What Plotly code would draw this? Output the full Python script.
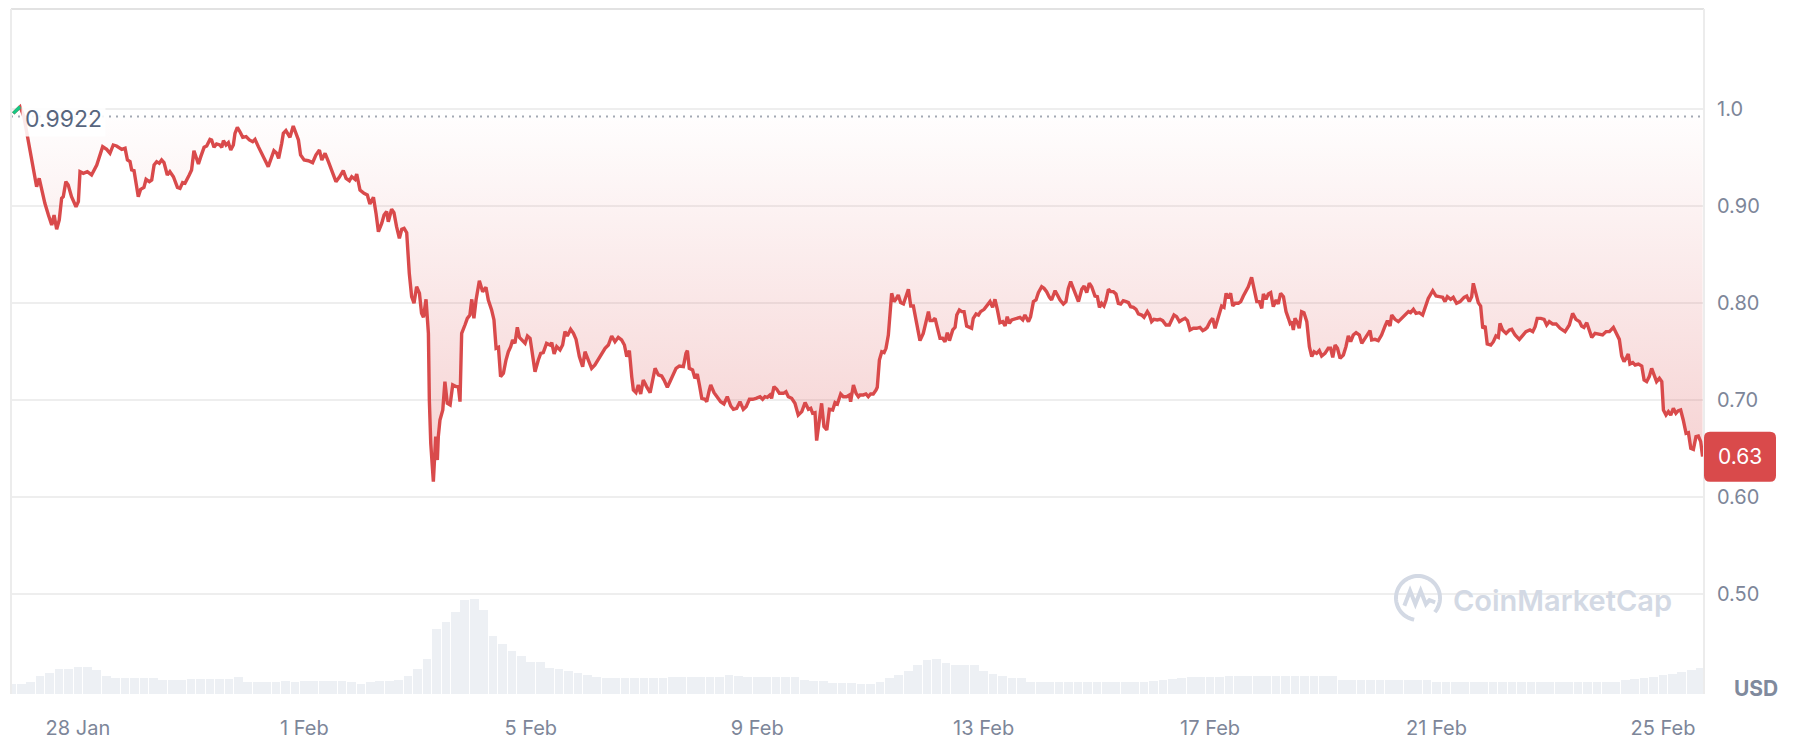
import math
import pandas as pd
import plotly.graph_objects as go

# ---------------- data ----------------
base_time = pd.Timestamp("2025-01-28 00:00")

# hours relative to 28 Jan 00:00, and price in USD
price_hours = [
    -27.4, -24.5, -22.9, -21.0, -19.6, -18.2, -17.5, -16.4, -15.4, -14.0, -12.5, -11.1, -10.1, -9.0, -7.9,
    -6.9, -6.2, -5.1, -4.1, -2.7, -0.8, 0.2, 0.9, 2.3, 4.0, 5.8, 8.0, 9.4, 10.5, 12.2, 13.6, 15.0, 16.4,
    18.6, 20.0, 21.0, 22.1, 22.8, 23.8, 25.6, 26.6, 28.0, 28.9, 30.3, 31.3, 32.3, 33.4, 34.5, 35.5, 36.5,
    37.9, 39.0, 40.5, 42.2, 43.3, 44.4, 45.4, 47.2, 48.2, 49.2, 50.1, 51.1, 52.1, 53.5, 54.6, 56.0, 56.7,
    57.7, 58.8, 60.2, 61.0, 61.7, 62.8, 63.8, 64.8, 65.9, 66.6, 67.6, 68.7, 69.9, 71.3, 72.7, 74.1, 75.1,
    76.5, 77.9, 79.3, 80.7, 82.2, 83.1, 84.3, 85.1, 86.4, 87.1, 88.2, 89.9, 91.3, 92.5, 93.5, 94.4, 95.9,
    97.7, 99.5, 100.9, 102.4, 103.4, 104.8, 106.2, 107.6, 109.4, 110.8, 112.5, 113.7, 115.1, 116.1, 117.5,
    118.2, 119.6, 121.3, 122.7, 123.8, 125.3, 126.4, 127.4, 128.8, 129.8, 130.9, 131.6, 133.0, 134.0,
    135.1, 136.3, 137.3, 138.3, 139.4, 140.5, 141.5, 142.5, 143.6, 144.8, 145.7, 146.5, 147.6, 148.2,
    148.6, 149.0, 149.6, 150.7, 151.7, 152.4, 152.8, 153.5, 154.7, 155.6, 156.6, 157.8, 158.9, 160.3,
    161.3, 162.0, 162.7, 164.1, 165.1, 166.2, 167.0, 167.9, 168.8, 170.2, 171.6, 173.0, 174.0, 175.4,
    176.4, 177.3, 178.3, 179.2, 180.4, 181.5, 182.5, 183.5, 184.3, 185.3, 186.3, 187.2, 188.1, 189.6,
    190.6, 191.7, 192.4, 193.8, 195.2, 196.2, 197.3, 198.7, 200.2, 200.9, 201.9, 203.0, 204.4, 205.5,
    206.5, 207.5, 208.9, 210.1, 211.2, 212.6, 214.0, 215.0, 216.4, 217.8, 219.2, 220.7, 222.1, 223.5,
    224.9, 226.3, 227.7, 229.1, 230.5, 231.7, 232.7, 233.8, 234.8, 235.5, 236.6, 237.6, 238.6, 239.7,
    241.1, 242.6, 243.7, 244.7, 246.1, 247.5, 248.5, 249.9, 251.0, 252.2, 253.6, 255.0, 256.7, 257.8,
    258.4, 259.2, 260.6, 261.6, 262.6, 263.5, 264.5, 265.9, 266.6, 267.7, 268.3, 269.7, 271.1, 272.5,
    273.9, 275.3, 276.8, 277.9, 279.3, 280.7, 282.1, 283.3, 284.7, 286.1, 287.5, 289.2, 290.3, 291.3,
    292.3, 293.4, 294.1, 295.1, 296.3, 297.4, 299.1, 300.2, 301.2, 302.6, 304.0, 305.4, 306.9, 308.3,
    309.7, 310.7, 311.5, 312.5, 313.2, 314.3, 315.3, 316.3, 317.5, 318.6, 320.0, 321.0, 322.0, 323.4,
    324.5, 325.9, 327.1, 327.6, 328.8, 329.9, 330.9, 331.6, 333.0, 334.1, 335.1, 336.1, 337.2, 338.4,
    338.9, 339.8, 340.8, 341.8, 342.6, 343.6, 345.0, 346.0, 346.8, 347.8, 348.8, 350.0, 351.1, 352.1,
    353.1, 354.2, 355.6, 357.0, 358.4, 359.6, 360.6, 361.3, 362.4, 363.4, 364.4, 365.5, 366.6, 367.6,
    368.6, 369.5, 370.9, 371.9, 372.6, 373.7, 374.7, 375.7, 376.8, 378.2, 378.9, 379.6, 380.8, 381.8,
    382.7, 384.2, 385.3, 386.7, 387.8, 388.8, 389.8, 390.9, 392.1, 393.1, 394.0, 394.9, 395.9, 397.3,
    398.3, 399.4, 400.6, 401.5, 403.0, 403.9, 405.1, 406.2, 407.2, 408.6, 409.6, 410.7, 411.9, 412.8,
    414.3, 415.2, 416.4, 417.8, 418.9, 419.9, 420.9, 422.0, 423.2, 424.2, 425.6, 426.6, 427.7, 428.8,
    429.8, 431.2, 432.2, 433.1, 434.0, 435.0, 435.9, 436.9, 437.9, 439.0, 440.1, 441.1, 442.1, 443.2,
    444.4, 445.4, 446.3, 447.5, 448.6, 449.6, 451.0, 452.0, 453.4, 454.3, 455.2, 456.2, 457.6, 458.8,
    459.9, 461.3, 462.7, 463.7, 464.7, 465.8, 467.0, 468.0, 469.4, 470.4, 471.5, 472.9, 474.3, 475.7,
    476.9, 477.9, 478.8, 480.0, 481.1, 482.1, 483.1, 483.9, 484.9, 485.9, 486.8, 487.7, 488.7, 489.6,
    490.6, 492.0, 493.0, 494.1, 495.2, 496.2, 497.6, 498.6, 499.8, 500.9, 501.9, 502.6, 503.7, 504.7,
    505.7, 506.8, 508.0, 508.9, 509.9, 511.1, 512.2, 513.2, 513.9, 514.6, 515.3, 516.0, 517.0, 517.8,
    518.8, 519.8, 521.0, 522.1, 523.1, 524.1, 525.2, 526.3, 527.3, 528.7, 530.1, 531.1, 532.0, 533.0,
    534.0, 535.1, 536.5, 537.6, 538.6, 539.6, 540.7, 541.9, 543.3, 544.3, 545.7, 546.7, 547.8, 548.5,
    549.9, 551.3, 552.7, 554.2, 555.2, 556.3, 557.0, 558.4, 559.8, 561.2, 562.6, 564.1, 565.0, 566.2,
    567.3, 568.7, 570.1, 571.1, 572.5, 574.4, 575.8, 577.2, 578.6, 579.6, 580.6, 582.0, 583.1, 584.5,
    586.0, 587.7, 588.8, 589.9, 590.9, 591.6, 592.7, 593.7, 594.7, 595.6, 596.6, 597.5, 599.0, 600.1,
    601.2, 602.2, 602.9, 604.0, 605.5, 606.9, 607.9, 609.3, 611.1, 612.5, 613.9, 615.6, 616.8, 617.8,
    618.7, 620.2, 621.6, 622.7, 623.8, 625.2, 626.7, 628.4, 630.5, 632.3, 633.7, 635.1, 636.6, 637.5,
    638.5, 639.7, 640.8, 641.8, 643.2, 645.0, 646.4, 647.9, 649.3, 651.0, 652.1, 653.5, 654.5, 655.5,
    656.6, 657.3, 658.0, 659.2, 660.2, 661.6, 663.0, 664.0, 665.1, 666.2, 667.2, 668.2, 669.3, 670.5,
    671.5, 672.2, 673.3, 674.3, 675.3, 676.4, 677.5, 678.5, 679.5, 680.6, 681.8, 682.8, 683.8, 684.9,
    686.0, 687.0, 688.0, 688.8,
]
price_values = [
    0.9955, 1.0024, 0.9920, 0.9663, 0.9457, 0.9302, 0.9199, 0.9285, 0.9165, 0.9028, 0.8907, 0.8804, 0.8907,
    0.8760, 0.8856, 0.9079, 0.9096, 0.9251, 0.9217, 0.9096, 0.8993, 0.9045, 0.9354, 0.9337, 0.9354, 0.9320,
    0.9423, 0.9526, 0.9612, 0.9584, 0.9543, 0.9629, 0.9619, 0.9584, 0.9595, 0.9474, 0.9457, 0.9371, 0.9364,
    0.9096, 0.9172, 0.9192, 0.9275, 0.9251, 0.9268, 0.9423, 0.9457, 0.9440, 0.9474, 0.9447, 0.9320, 0.9354,
    0.9302, 0.9192, 0.9182, 0.9241, 0.9234, 0.9320, 0.9371, 0.9570, 0.9509, 0.9433, 0.9509, 0.9605, 0.9619,
    0.9687, 0.9681, 0.9605, 0.9639, 0.9629, 0.9605, 0.9674, 0.9629, 0.9653, 0.9577, 0.9629, 0.9749, 0.9811,
    0.9766, 0.9708, 0.9715, 0.9681, 0.9663, 0.9687, 0.9612, 0.9536, 0.9474, 0.9406, 0.9509, 0.9570, 0.9543,
    0.9491, 0.9646, 0.9749, 0.9777, 0.9708, 0.9825, 0.9749, 0.9681, 0.9526, 0.9474, 0.9467, 0.9447, 0.9526,
    0.9577, 0.9474, 0.9543, 0.9457, 0.9371, 0.9251, 0.9296, 0.9364, 0.9285, 0.9261, 0.9302, 0.9275, 0.9330,
    0.9165, 0.9131, 0.9114, 0.9021, 0.9090, 0.8924, 0.8735, 0.8821, 0.8907, 0.8942, 0.8838, 0.8966, 0.8931,
    0.8787, 0.8667, 0.8760, 0.8770, 0.8725, 0.8306, 0.8065, 0.7997, 0.8168, 0.8100, 0.7893, 0.7852, 0.8038,
    0.7866, 0.7687, 0.7000, 0.6553, 0.6158, 0.6622, 0.6381, 0.6622, 0.6794, 0.6897, 0.7189, 0.6966, 0.6949,
    0.7155, 0.7138, 0.7138, 0.6983, 0.7687, 0.7773, 0.7842, 0.7876, 0.8038, 0.7842, 0.8031, 0.8230, 0.8117,
    0.8162, 0.8031, 0.7928, 0.7825, 0.7533, 0.7543, 0.7241, 0.7275, 0.7412, 0.7498, 0.7550, 0.7619, 0.7584,
    0.7749, 0.7646, 0.7619, 0.7584, 0.7660, 0.7636, 0.7522, 0.7292, 0.7412, 0.7481, 0.7488, 0.7584, 0.7567,
    0.7591, 0.7474, 0.7550, 0.7516, 0.7567, 0.7705, 0.7660, 0.7729, 0.7687, 0.7625, 0.7447, 0.7344, 0.7498,
    0.7412, 0.7326, 0.7361, 0.7419, 0.7481, 0.7533, 0.7567, 0.7660, 0.7601, 0.7646, 0.7619, 0.7567, 0.7447,
    0.7509, 0.7241, 0.7103, 0.7076, 0.7155, 0.7062, 0.7206, 0.7138, 0.7076, 0.7206, 0.7326, 0.7258, 0.7247,
    0.7206, 0.7131, 0.7189, 0.7258, 0.7326, 0.7351, 0.7344, 0.7481, 0.7509, 0.7326, 0.7309, 0.7223, 0.7268,
    0.7155, 0.7017, 0.7007, 0.6983, 0.7103, 0.7155, 0.7076, 0.7034, 0.6983, 0.6959, 0.7034, 0.6938, 0.6904,
    0.6914, 0.6983, 0.6904, 0.6931, 0.7007, 0.7007, 0.7017, 0.7034, 0.7007, 0.7034, 0.7028, 0.7052, 0.7017,
    0.7138, 0.7110, 0.7069, 0.7069, 0.7086, 0.7034, 0.7017, 0.6966, 0.6845, 0.6880, 0.6973, 0.6904, 0.6914,
    0.6863, 0.6869, 0.6581, 0.6794, 0.6966, 0.6725, 0.6691, 0.6904, 0.6897, 0.6973, 0.6959, 0.7062, 0.7034,
    0.7034, 0.7052, 0.6983, 0.7155, 0.7069, 0.7034, 0.7052, 0.7052, 0.7062, 0.7034, 0.7062, 0.7062, 0.7103,
    0.7131, 0.7412, 0.7498, 0.7488, 0.7533, 0.7670, 0.8100, 0.8014, 0.8038, 0.8083, 0.8004, 0.7990, 0.8065,
    0.8141, 0.7969, 0.7969, 0.7790, 0.7612, 0.7687, 0.7825, 0.7911, 0.7818, 0.7818, 0.7842, 0.7749, 0.7636,
    0.7636, 0.7601, 0.7694, 0.7612, 0.7722, 0.7749, 0.7876, 0.7928, 0.7911, 0.7911, 0.7763, 0.7749, 0.7739,
    0.7842, 0.7887, 0.7876, 0.7911, 0.7935, 0.7969, 0.8014, 0.7955, 0.8038, 0.7935, 0.7797, 0.7808, 0.7763,
    0.7859, 0.7790, 0.7825, 0.7839, 0.7842, 0.7852, 0.7825, 0.7876, 0.7808, 0.7859, 0.8014, 0.8031, 0.8107,
    0.8168, 0.8151, 0.8117, 0.8058, 0.8031, 0.8127, 0.8083, 0.8031, 0.7990, 0.8014, 0.8151, 0.8220, 0.8151,
    0.8065, 0.8014, 0.8141, 0.8175, 0.8107, 0.8203, 0.8168, 0.8072, 0.8065, 0.7955, 0.7997, 0.7969, 0.8031,
    0.8141, 0.8117, 0.8117, 0.8093, 0.7997, 0.7990, 0.8024, 0.8014, 0.8004, 0.7962, 0.7955, 0.7935, 0.7887,
    0.7876, 0.7852, 0.7911, 0.7876, 0.7808, 0.7832, 0.7825, 0.7832, 0.7818, 0.7773, 0.7773, 0.7832, 0.7876,
    0.7859, 0.7808, 0.7825, 0.7842, 0.7818, 0.7722, 0.7739, 0.7739, 0.7749, 0.7715, 0.7729, 0.7749, 0.7808,
    0.7842, 0.7739, 0.7825, 0.7893, 0.7969, 0.7955, 0.8100, 0.8048, 0.8100, 0.7969, 0.7997, 0.7997, 0.8014,
    0.8072, 0.8117, 0.8168, 0.8265, 0.8151, 0.8014, 0.8014, 0.7945, 0.8093, 0.8038, 0.8093, 0.8107, 0.7962,
    0.8031, 0.7990, 0.8100, 0.8065, 0.7911, 0.7842, 0.7790, 0.7808, 0.7722, 0.7842, 0.7797, 0.7739, 0.7911,
    0.7900, 0.7808, 0.7550, 0.7447, 0.7498, 0.7481, 0.7509, 0.7454, 0.7481, 0.7533, 0.7533, 0.7440, 0.7567,
    0.7533, 0.7430, 0.7464, 0.7550, 0.7660, 0.7601, 0.7670, 0.7694, 0.7670, 0.7584, 0.7636, 0.7687, 0.7715,
    0.7619, 0.7625, 0.7612, 0.7670, 0.7763, 0.7818, 0.7763, 0.7876, 0.7832, 0.7808, 0.7842, 0.7876, 0.7911,
    0.7900, 0.7935, 0.7893, 0.7900, 0.7876, 0.7945, 0.8048, 0.8127, 0.8072, 0.8065, 0.8058, 0.8014, 0.8065,
    0.8038, 0.8058, 0.7997, 0.8014, 0.8058, 0.8072, 0.8014, 0.8065, 0.8203, 0.8083, 0.8004, 0.7969, 0.7739,
    0.7763, 0.7577, 0.7567, 0.7601, 0.7660, 0.7646, 0.7790, 0.7722, 0.7687, 0.7722, 0.7729, 0.7670, 0.7625,
    0.7670, 0.7705, 0.7722, 0.7705, 0.7756, 0.7842, 0.7842, 0.7832, 0.7773, 0.7808, 0.7784, 0.7784, 0.7739,
    0.7705, 0.7773, 0.7893, 0.7832, 0.7808, 0.7763, 0.7749, 0.7797, 0.7722, 0.7646, 0.7687, 0.7680, 0.7670,
    0.7705, 0.7705, 0.7749, 0.7687, 0.7625, 0.7454, 0.7395, 0.7440, 0.7474, 0.7371, 0.7385, 0.7361, 0.7371,
    0.7351, 0.7206, 0.7189, 0.7241, 0.7326, 0.7268, 0.7189, 0.7223, 0.7189, 0.6897, 0.6845, 0.6880, 0.6845,
    0.6914, 0.6863, 0.6890, 0.6897, 0.6794, 0.6656, 0.6663, 0.6502, 0.6491, 0.6622, 0.6629, 0.6571, 0.6416,
]

# 24h volume, relative units, one bar every 4 hours starting 26 Jan 20:00
volume_start_hour = -28
volume_step_hours = 4
volume_values = [
    10, 10, 13, 19, 22, 26, 26, 28, 28, 25, 19, 17, 17, 17, 17, 17, 15, 15, 15, 16,
    16, 16, 16, 16, 18, 13, 12, 12, 12, 14, 12, 14, 14, 14, 14, 14, 12, 10, 12, 14,
    14, 15, 19, 26, 37, 68, 75, 85, 98, 99, 88, 60, 52, 45, 40, 33, 33, 27, 26, 24,
    22, 20, 18, 17, 17, 17, 17, 17, 17, 17, 18, 18, 18, 18, 18, 18, 20, 19, 18, 18,
    18, 18, 18, 18, 15, 14, 14, 11, 11, 11, 10, 10, 12, 17, 20, 24, 30, 35, 37, 32,
    30, 30, 30, 24, 21, 19, 17, 17, 13, 13, 13, 13, 13, 13, 13, 13, 13, 13, 13, 13,
    13, 14, 15, 16, 17, 18, 18, 18, 18, 19, 19, 19, 19, 19, 19, 19, 19, 19, 19, 19,
    19, 15, 15, 15, 15, 15, 15, 15, 15, 15, 15, 13, 13, 13, 13, 13, 13, 13, 13, 13,
    13, 13, 13, 13, 13, 13, 13, 13, 13, 13, 13, 15, 16, 17, 18, 20, 21, 23, 25, 27,
]

reference_price = 0.9922
reference_label = "0.9922"
last_price_label = "0.63"
y_tick_values = [0.5, 0.6, 0.7, 0.8, 0.9, 1.0]
y_tick_labels = ["0.50", "0.60", "0.70", "0.80", "0.90", "1.0"]
x_tick_dates = ["2025-01-28", "2025-02-01", "2025-02-05", "2025-02-09",
                "2025-02-13", "2025-02-17", "2025-02-21", "2025-02-25"]
x_tick_labels = ["28 Jan", "1 Feb", "5 Feb", "9 Feb", "13 Feb", "17 Feb", "21 Feb", "25 Feb"]
watermark_text = "CoinMarketCap"
currency_text = "USD"

# ---------------- layout constants ----------------
# the page body has an 8px margin, so the figure itself starts at (8, 8)
BODY = 8
PL, PR, PT, PB = 11, 1704, 9, 694         # plot box in page pixels
W, H = 1796 - BODY, 740 - BODY
ML, MT = PL - BODY, PT - BODY
MR = BODY + W - PR
MB = BODY + H - PB
PW = PR - PL
PH = PB - PT
Y_RANGE = [0.3969, 1.1031]
X_RANGE_HOURS = [-28.36, 689.4]
VOL_RANGE = [0, 714]

RED = "#d94a4b"
GREEN = "#16c784"
GRID = "#eeeeee"
TICK_COLOR = "#7d8699"
WM_COLOR = "#d3d9e4"
FONT = "Inter, Roboto, 'Open Sans', sans-serif"

def t(h):
    return base_time + pd.Timedelta(hours=h)

price_times = [t(h) for h in price_hours]
vol_times = [t(volume_start_hour + volume_step_hours * i) for i in range(len(volume_values))]

fig = go.Figure()

fig.add_trace(go.Bar(
    x=vol_times, y=volume_values, yaxis="y2",
    marker=dict(color="#edf0f4", line=dict(width=0)),
    width=volume_step_hours * 3600 * 1000 * 0.92,
    hoverinfo="skip", showlegend=False,
))

fig.add_trace(go.Scatter(
    x=[price_times[0], price_times[-1]], y=[reference_price, reference_price],
    mode="lines", line=dict(width=0, color="rgba(0,0,0,0)"),
    hoverinfo="skip", showlegend=False,
))

fig.add_trace(go.Scatter(
    x=price_times, y=price_values, mode="lines",
    line=dict(color=RED, width=3.4),
    fill="tonexty",
    fillgradient=dict(type="vertical",
                      colorscale=[[0, "rgba(217,74,75,0.26)"], [1, "rgba(217,74,75,0.0)"]]),
    hoverinfo="skip", showlegend=False,
))

fig.add_trace(go.Scatter(
    x=price_times[:2], y=price_values[:2], mode="lines",
    line=dict(color=GREEN, width=3.4), hoverinfo="skip", showlegend=False,
))

def px_to_paper(px, py):
    return (px - PL) / PW, (PB - py) / PH

yspan = Y_RANGE[1] - Y_RANGE[0]
shapes = []
# dotted reference line
shapes.append(dict(type="line", xref="paper", yref="y", x0=0, x1=1,
                   y0=reference_price, y1=reference_price,
                   line=dict(color="#a3a9b4", width=2, dash="2px,5px")))
# frame lines
shapes.append(dict(type="line", xref="paper", yref="paper", x0=0, x1=1, y0=1, y1=1,
                   line=dict(color="#e2e2e2", width=2)))
shapes.append(dict(type="line", xref="paper", yref="paper", x0=0, x1=0, y0=0, y1=1,
                   line=dict(color="#ececec", width=2)))
shapes.append(dict(type="line", xref="paper", yref="paper", x0=1, x1=1, y0=0, y1=1,
                   line=dict(color="#ececec", width=2)))

# last price box (rounded)
last_p = price_values[-1]
bx0, bx1 = 1.0, (PR + 72 - PL) / PW
half_h = 25 / PH * yspan
by0, by1 = last_p - half_h, last_p + half_h
rx = 6 / PW
ry = 6 / PH * yspan
box_path = (f"M {bx0+rx},{by0} L {bx1-rx},{by0} Q {bx1},{by0} {bx1},{by0+ry} "
            f"L {bx1},{by1-ry} Q {bx1},{by1} {bx1-rx},{by1} L {bx0+rx},{by1} "
            f"Q {bx0},{by1} {bx0},{by1-ry} L {bx0},{by0+ry} Q {bx0},{by0} {bx0+rx},{by0} Z")
shapes.append(dict(type="path", xref="paper", yref="y", path=box_path,
                   fillcolor=RED, line=dict(width=0)))

# watermark logo
cx, cy, r = 1418, 598, 22
arc_pts = []
for k in range(0, 61):
    ang = math.radians(-40 + k * (300 / 60))
    arc_pts.append(px_to_paper(cx + r * math.cos(ang), cy - r * math.sin(ang)))
arc_path = "M " + " L ".join(f"{x:.5f},{y:.5f}" for x, y in arc_pts)
shapes.append(dict(type="path", xref="paper", yref="paper", path=arc_path,
                   line=dict(color=WM_COLOR, width=4)))
m_rel = [(-0.62, -0.35), (-0.36, 0.33), (-0.12, -0.28), (0.12, 0.33), (0.36, -0.28),
         (0.52, -0.1), (0.78, -0.2)]
m_pts = [px_to_paper(cx + r * dx, cy - r * dy) for dx, dy in m_rel]
m_path = "M " + " L ".join(f"{x:.5f},{y:.5f}" for x, y in m_pts)
shapes.append(dict(type="path", xref="paper", yref="paper", path=m_path,
                   line=dict(color=WM_COLOR, width=4)))

annotations = []
annotations.append(dict(
    xref="paper", yref="y", x=(21 - PL) / PW, y=reference_price, yshift=-2,
    xanchor="left", yanchor="middle", text=reference_label, showarrow=False,
    font=dict(family=FONT, size=23, color="#58667e"),
    bgcolor="rgba(255,255,255,0.88)", borderpad=3,
))
annotations.append(dict(
    xref="paper", yref="y", x=(bx0 + bx1) / 2, y=last_p,
    xanchor="center", yanchor="middle", text=last_price_label, showarrow=False,
    font=dict(family=FONT, size=21, color="white"),
))
ux, uy = px_to_paper(1756, 688)
annotations.append(dict(
    xref="paper", yref="paper", x=ux, y=uy, xanchor="center", yanchor="middle",
    text=f"<b>{currency_text}</b>", showarrow=False,
    font=dict(family=FONT, size=21, color="#808a9d"),
))
wx, wy = px_to_paper(1562, 600)
annotations.append(dict(
    xref="paper", yref="paper", x=wx, y=wy, xanchor="center", yanchor="middle",
    text=watermark_text, showarrow=False,
    font=dict(family=FONT, size=29, color=WM_COLOR, weight=600),
))

fig.update_layout(
    template="none",
    width=W, height=H,
    margin=dict(l=ML, r=MR, t=MT, b=MB, pad=0),
    paper_bgcolor="white", plot_bgcolor="white",
    showlegend=False,
    font=dict(family=FONT),
    xaxis=dict(
        type="date", range=[t(X_RANGE_HOURS[0]), t(X_RANGE_HOURS[1])],
        tickmode="array", tickvals=[pd.Timestamp(d) for d in x_tick_dates], ticktext=x_tick_labels,
        showgrid=False, zeroline=False, showline=False, ticks="",
        tickfont=dict(family=FONT, size=20, color=TICK_COLOR),
        ticklabelstandoff=20, automargin=False,
    ),
    yaxis=dict(
        range=Y_RANGE, side="right",
        tickmode="array", tickvals=y_tick_values, ticktext=y_tick_labels,
        showgrid=True, gridcolor=GRID, gridwidth=2, zeroline=False, showline=False, ticks="",
        tickfont=dict(family=FONT, size=20, color=TICK_COLOR),
        ticklabelstandoff=12, automargin=False,
    ),
    yaxis2=dict(range=VOL_RANGE, overlaying="y", visible=False, fixedrange=True),
    shapes=shapes,
    annotations=annotations,
    bargap=0,
)

fig.write_html("out.html")
